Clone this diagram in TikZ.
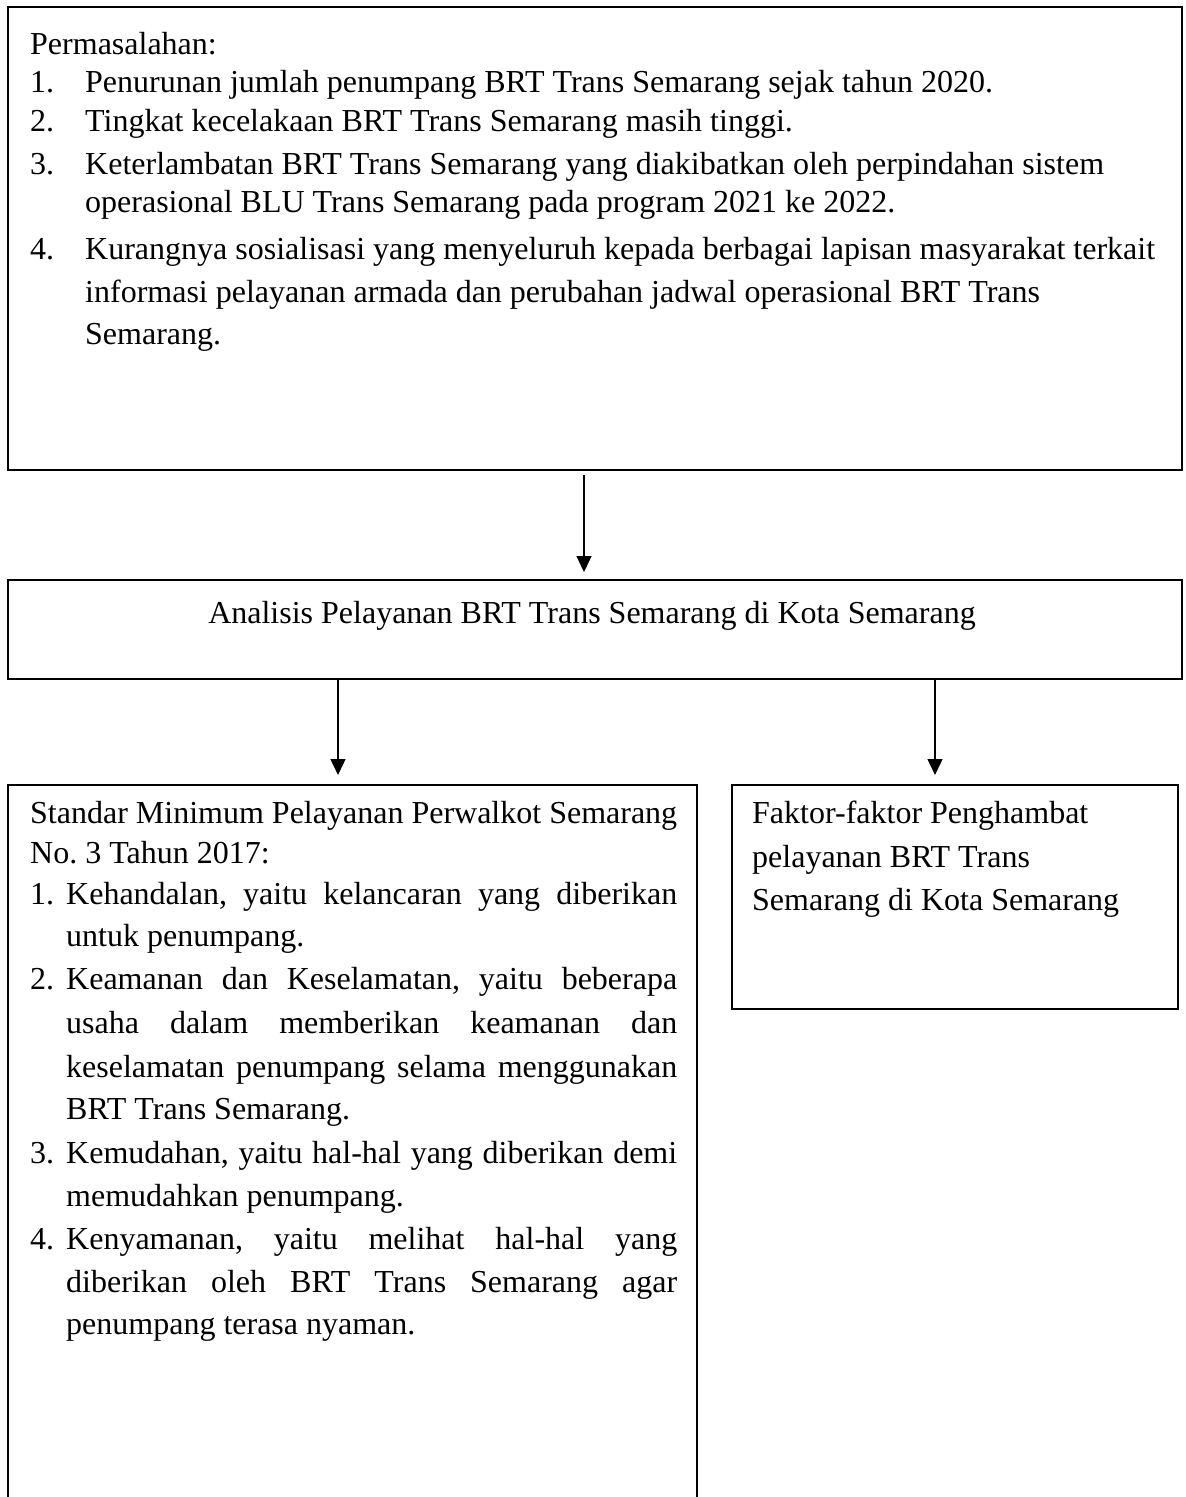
\documentclass[tikz,border=0pt]{standalone}
\usepackage{fontspec}
\setmainfont{Liberation Serif}
\usetikzlibrary{arrows.meta}
\frenchspacing
\begin{document}
\begin{tikzpicture}[x=1pt,y=-1pt,
  box/.style={draw=black, line width=1.5pt, anchor=north west, inner sep=0pt, outer sep=0pt},
  txt/.style={anchor=base west, inner sep=0pt, font=\fontsize{32}{40}\selectfont},
  ctxt/.style={anchor=base, inner sep=0pt, font=\fontsize{32}{40}\selectfont},
  arr/.style={line width=1.3pt, -{Triangle[width=15pt,length=16pt]}}]
\useasboundingbox (0,0) rectangle (1186,1497);
\clip (0,0) rectangle (1186,1497);
\fill[white] (0,0) rectangle (1186,1497);
% boxes
\node[box, minimum width=1174pt, minimum height=463pt] (prob) at (8,7) {};
\node[box, minimum width=1174pt, minimum height=99pt] (anal) at (8,580) {};
\node[box, minimum width=689pt, minimum height=800pt] (std) at (8,785) {};
\node[box, minimum width=446pt, minimum height=224pt] (fac) at (732,785) {};
% arrows
\draw[arr] ([xshift=-11pt,yshift=-5pt]prob.south) -- ([xshift=-11pt,yshift=8pt]anal.north);
\draw[arr] ([xshift=-257pt]anal.south) -- ([xshift=-14.5pt,yshift=10pt]std.north);
\draw[arr] ([xshift=340pt]anal.south) -- ([xshift=-20pt,yshift=10pt]fac.north);
% top box text
\node[txt] (p0) at (30,54) {Permasalahan:};
\node[txt] (n1) at (30,92) {1.};
\node[txt] (p1) at (85,92) {Penurunan jumlah penumpang BRT Trans Semarang sejak tahun 2020.};
\node[txt] (n2) at (30,131) {2.};
\node[txt] (p2) at (85,131) {Tingkat kecelakaan BRT Trans Semarang masih tinggi.};
\node[txt] (n3) at (30,174) {3.};
\node[txt] (p3) at (85,174) {Keterlambatan BRT Trans Semarang yang diakibatkan oleh perpindahan sistem};
\node[txt] (p3b) at (85,212) {operasional BLU Trans Semarang pada program 2021 ke 2022.};
\node[txt] (n4) at (30,259) {4.};
\node[txt] (p4) at (85,259) {Kurangnya sosialisasi yang menyeluruh kepada berbagai lapisan masyarakat terkait};
\node[txt] (p4b) at (85,302) {informasi pelayanan armada dan perubahan jadwal operasional BRT Trans};
\node[txt] (p4c) at (85,344) {Semarang.};
% second box
\node[ctxt] (a0) at (592,623) {Analisis Pelayanan BRT Trans Semarang di Kota Semarang};
% standard box
\node[txt] (s0) at (30,823) {\makebox[647pt][s]{Standar Minimum Pelayanan Perwalkot Semarang}};
\node[txt] (s1) at (30,863) {No. 3 Tahun 2017:};
\node[txt] (sn1) at (30,904) {1.};
\node[txt] (s2) at (66,904) {\makebox[611pt][s]{Kehandalan, yaitu kelancaran yang diberikan}};
\node[txt] (s3) at (66,946) {untuk penumpang.};
\node[txt] (sn2) at (30,989) {2.};
\node[txt] (s4) at (66,989) {\makebox[611pt][s]{Keamanan dan Keselamatan, yaitu beberapa}};
\node[txt] (s5) at (66,1033) {\makebox[611pt][s]{usaha dalam memberikan keamanan dan}};
\node[txt] (s6) at (66,1077) {\makebox[611pt][s]{keselamatan penumpang selama menggunakan}};
\node[txt] (s7) at (66,1119) {BRT Trans Semarang.};
\node[txt] (sn3) at (30,1163) {3.};
\node[txt] (s8) at (66,1163) {\makebox[611pt][s]{Kemudahan, yaitu hal-hal yang diberikan demi}};
\node[txt] (s9) at (66,1206) {memudahkan penumpang.};
\node[txt] (sn4) at (30,1249) {4.};
\node[txt] (s10) at (66,1249) {\makebox[611pt][s]{Kenyamanan, yaitu melihat hal-hal yang}};
\node[txt] (s11) at (66,1292) {\makebox[611pt][s]{diberikan oleh BRT Trans Semarang agar}};
\node[txt] (s12) at (66,1334) {penumpang terasa nyaman.};
% factor box
\node[txt] (f0) at (752,823) {Faktor-faktor Penghambat};
\node[txt] (f1) at (752,867) {pelayanan BRT Trans};
\node[txt] (f2) at (752,910) {Semarang di Kota Semarang};
\end{tikzpicture}
\end{document}
